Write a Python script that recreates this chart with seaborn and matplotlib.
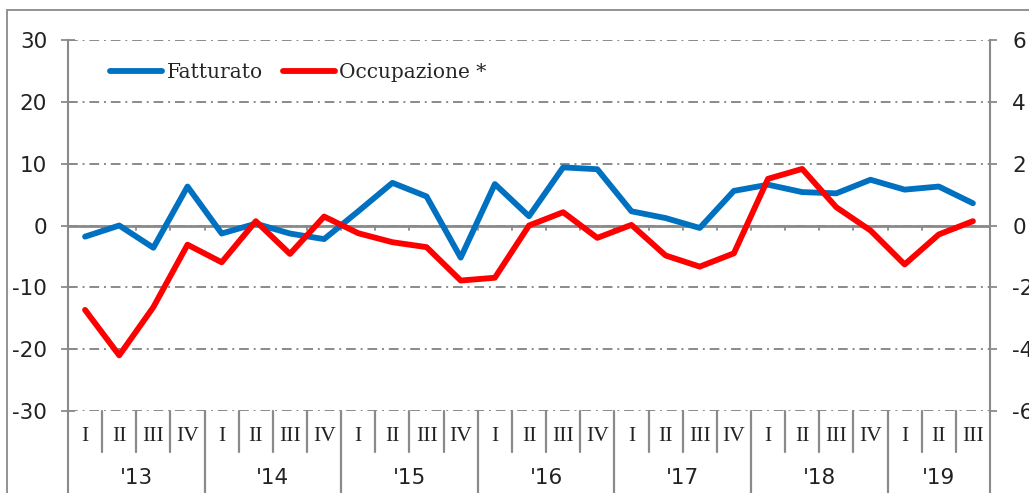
import matplotlib.pyplot as plt
import matplotlib.patches as mpatches
import matplotlib.transforms as mtransforms
import pandas as pd
import seaborn as sns

years = ["'13", "'14", "'15", "'16", "'17", "'18", "'19"]
quarters = ["I", "II", "III", "IV"]
fatturato = [-1.8, 0.0, -3.6, 6.3, -1.3, 0.3, -1.3, -2.2, 2.3, 6.9, 4.7, -5.2, 6.7, 1.5,
             9.4, 9.1, 2.3, 1.2, -0.4, 5.6, 6.6, 5.4, 5.2, 7.4, 5.8, 6.3, 3.6]
occupazione = [-2.73, -4.2, -2.64, -0.62, -1.19, 0.14, -0.92, 0.29, -0.25, -0.54, -0.70, -1.78,
               -1.69, 0.0, 0.43, -0.4, 0.02, -0.97, -1.33, -0.9, 1.51, 1.83, 0.59, -0.16,
               -1.26, -0.29, 0.14]

n = len(fatturato)
periods = [(y, q) for y in years for q in quarters][:n]
df = pd.DataFrame({"t": range(n), "Fatturato": fatturato, "Occupazione": occupazione})

sns.set_style("white")
plt.rcParams["font.family"] = ["DejaVu Sans"]
plt.rcParams["axes.unicode_minus"] = False

grey = "#8a8a8a"
blue = "#0070C0"
red = "#FF0000"

fig = plt.figure(figsize=(10.29, 4.93), dpi=100)
ax = fig.add_axes([68 / 1029, 1 - 411 / 493, 922 / 1029, 371 / 493])
ax2 = ax.twinx()

# outer frame
fig.add_artist(mpatches.Rectangle((7 / 1029, -0.2), 1.2, 1.2 - 10 / 493, transform=fig.transFigure,
                                  fill=False, edgecolor=grey, lw=1.3))

sns.lineplot(data=df, x="t", y="Fatturato", ax=ax, color=blue, lw=4.2, label="Fatturato",
             legend=False, solid_capstyle="round", solid_joinstyle="round", zorder=5)
sns.lineplot(data=df, x="t", y="Occupazione", ax=ax2, color=red, lw=4.2, label="Occupazione *",
             legend=False, solid_capstyle="round", solid_joinstyle="round", zorder=5)

ax.set_xlim(-0.5, n - 0.5)
ax.set_ylim(-30, 30)
ax2.set_ylim(-6, 6)
ax.set_yticks(range(-30, 31, 10))
ax2.set_yticks(range(-6, 7, 2))
ax.set_xticks([])
ax2.set_xticks([])
ax.set_xlabel("")
ax.set_ylabel("")
ax2.set_ylabel("")

ax.grid(axis="y", color=grey, lw=1.4, ls=(0, (5, 2.5, 1, 2.5)))
ax.grid(axis="x", visible=False)
ax2.grid(False)
ax.axhline(0, color=grey, lw=2, zorder=2)

for a in (ax, ax2):
    for s in a.spines.values():
        s.set_visible(False)
        s.set_color(grey)
        s.set_linewidth(1.5)
ax.spines["left"].set_visible(True)
ax2.spines["right"].set_visible(True)

ax.tick_params(axis="y", direction="inout", length=10, width=1.3, color=grey, pad=10,
               labelsize=15.5, labelcolor="#222222")
ax2.tick_params(axis="y", direction="out", length=5, width=1.3, color=grey, pad=11,
                labelsize=15.5, labelcolor="#222222")

# category axis drawn below the plot
tr = mtransforms.blended_transform_factory(ax.transData, ax.transAxes)
for i in range(n):
    ax.plot([i + 0.5, i + 0.5], [-0.0, -0.8], color=grey, lw=1.3, zorder=2)  # zero-line ticks
for i in range(n - 1):
    b = i + 0.5
    yb = -0.35 if (i + 1) % 4 == 0 else -0.11
    ax.plot([b, b], [0, yb], transform=tr, color=grey, lw=1.6, clip_on=False)
for xa in (0, 1):
    ax.plot([xa, xa], [0, -0.35], transform=ax.transAxes, color=grey, lw=1.5, clip_on=False)

for i, (y, q) in enumerate(periods):
    ax.text(i, -0.07, q, transform=tr, ha="center", va="center", fontsize=15.5,
            family="Liberation Serif", color="#222222")
for k, y in enumerate(years):
    idx = [i for i, p in enumerate(periods) if p[0] == y]
    ax.text(sum(idx) / len(idx), -0.181, y, transform=tr, ha="center", va="center",
            fontsize=15.5, color="#222222")

h1, l1 = ax.get_legend_handles_labels()
h2, l2 = ax2.get_legend_handles_labels()
leg = ax2.legend(h1 + h2, l1 + l2, loc="upper left", bbox_to_anchor=(0.026, 0.987), ncol=2,
                 frameon=False, handlelength=2.6, handletextpad=0.2, columnspacing=1.0,
                 prop={"family": "DejaVu Serif", "size": 14.5})

fig.savefig("out.png", dpi=100)
